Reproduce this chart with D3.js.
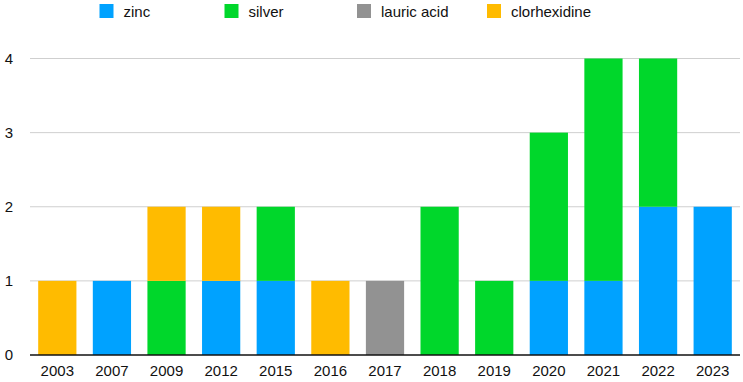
<!DOCTYPE html>
<html><head><meta charset="utf-8">
<script src="https://cdn.jsdelivr.net/npm/d3@7"></script>
<style>body{margin:0;background:#fff;}svg{display:block;font-family:"Liberation Sans",Arial,Helvetica,sans-serif;}</style>
</head><body>
<svg id="chart" width="743" height="382"></svg>
<script>
const years = ["2003","2007","2009","2012","2015","2016","2017","2018","2019","2020","2021","2022","2023"];
const seriesNames = ["zinc","silver","lauric acid","clorhexidine"];
const zinc =         [0,1,0,1,1,0,0,0,0,1,1,2,2];
const silver =       [0,0,1,0,1,0,0,2,1,2,3,2,0];
const lauricAcid =   [0,0,0,0,0,0,1,0,0,0,0,0,0];
const clorhexidine = [1,0,1,1,0,1,0,0,0,0,0,0,0];
const yTicks = [0,1,2,3,4];
const colors = ["#00a2ff","#00d72b","#929292","#ffbb00"];

const seriesValues = [zinc, silver, lauricAcid, clorhexidine];
const rows = years.map((y,i)=>{const r={year:y}; seriesNames.forEach((s,j)=>r[s]=seriesValues[j][i]); return r;});
const stacked = d3.stack().keys(seriesNames)(rows);

const svg = d3.select("#chart");
const plotLeft = 30, plotRight = 740, plotTop = 58.5, plotBottom = 355;
const x = d3.scaleBand().domain(years).range([plotLeft,plotRight]).paddingInner(0.3).paddingOuter(0.15);
const y = d3.scaleLinear().domain([0,4]).range([plotBottom, plotTop]);
const color = d3.scaleOrdinal().domain(seriesNames).range(colors);

// gridlines
svg.append("g").selectAll("line").data(yTicks.filter(t=>t>0)).join("line")
  .attr("x1", plotLeft).attr("x2", plotRight)
  .attr("y1", d=>y(d)).attr("y2", d=>y(d))
  .attr("stroke", "#cfcfcf").attr("stroke-width", 1);

// y labels
svg.append("g").selectAll("text").data(yTicks).join("text")
  .attr("x", 9).attr("y", d=>y(d)).attr("dy","0.35em")
  .attr("text-anchor","middle").attr("font-size", 15).attr("fill","#111")
  .text(d=>d);

// bars
svg.append("g").selectAll("g").data(stacked).join("g")
  .attr("fill", d=>color(d.key))
  .selectAll("rect").data(d=>d.filter(p=>p[1]-p[0]>0)).join("rect")
  .attr("x", d=>x(d.data.year)).attr("width", x.bandwidth())
  .attr("y", d=>y(d[1])).attr("height", d=>y(d[0])-y(d[1]));

// x axis
const xAxis = d3.axisBottom(x).tickSize(0).tickPadding(10);
const gx = svg.append("g").attr("transform", `translate(0,${plotBottom})`).call(xAxis);
gx.select(".domain").attr("d", `M${plotLeft},0H${plotRight}`).attr("stroke","#111").attr("stroke-width",1.5);
gx.selectAll("text").attr("font-size", 15).attr("fill","#111").attr("font-family","Liberation Sans, Arial, sans-serif");

// legend
const legendX = [99.5, 224.5, 357, 487];
const lg = svg.append("g").selectAll("g").data(seriesNames).join("g")
  .attr("transform",(d,i)=>`translate(${legendX[i]},4)`);
lg.append("rect").attr("width",14).attr("height",14).attr("fill",d=>color(d));
lg.append("text").attr("x",24).attr("y",12.5).attr("font-size",15).attr("fill","#111").text(d=>d);
</script>
</body></html>
